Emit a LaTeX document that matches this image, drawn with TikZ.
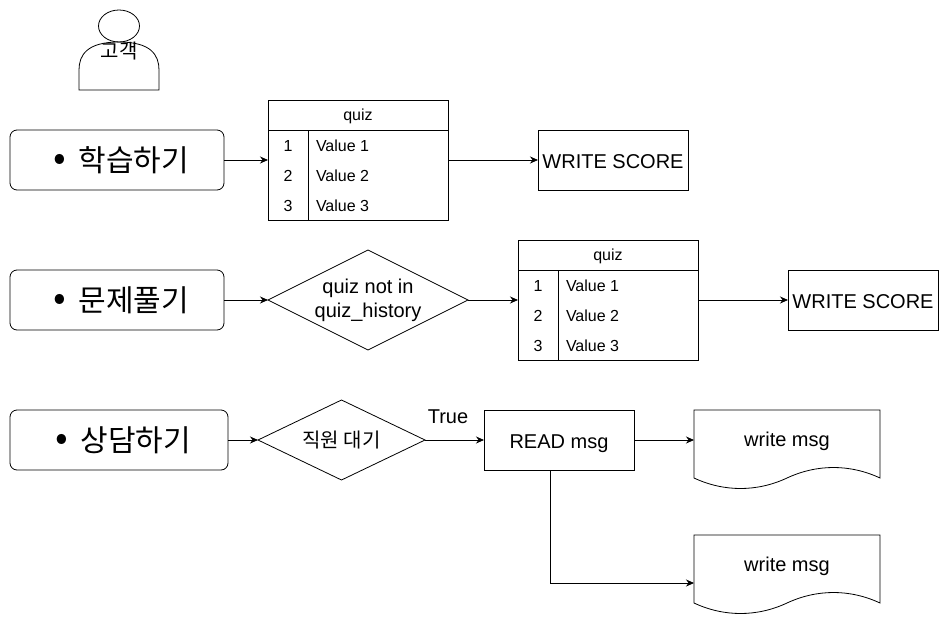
\documentclass[tikz,border=0pt]{standalone}
\usepackage{fontspec}
\setmainfont{Liberation Sans}
\newfontfamily\krfont{Noto Sans CJK KR}
\usetikzlibrary{arrows.meta,shapes.geometric}
\tikzset{
    x={1pt},
    y={-1pt},
    flow/.style={
        draw=black,
        line width={0.8pt},
        -{Stealth[length=8pt,width=7pt]},
    },
    shape line/.style={
        draw=black,
        line width={0.8pt},
    },
    task box/.style={
        shape line, rectangle, rounded corners={7pt},
        minimum width={#1},
        minimum height={60},
        outer sep=0pt,
        font={\fontsize{30}{34}\selectfont\krfont},
    },
    step box/.style={
        shape line, rectangle,
        minimum width={150},
        minimum height={60},
        inner sep=0pt, outer sep=0pt,
        text height=16pt, text depth=0pt,
        font={\fontsize{20}{24}\selectfont},
    },
    check/.style 2 args={
        shape line, diamond,
        minimum width={#1},
        minimum height={#2},
        aspect=2,
        inner sep=-2pt, outer sep=0pt,
        align=center,
        font={\fontsize{20}{24}\selectfont},
    },
    table frame/.style={
        shape line, rectangle,
        minimum width={180},
        minimum height={120},
        outer sep=0pt,
    },
    table text/.style={
        inner sep=0pt, outer sep=0pt,
        text height=11.5pt, text depth=0pt,
        font={\fontsize{16}{19}\selectfont},
    },
    doc text/.style={
        rectangle,
        minimum width={186},
        minimum height={58},
        inner sep=0pt, outer sep=0pt,
        text height=14pt, text depth=0pt,
        font={\fontsize{20}{24}\selectfont},
    },
}
\newcommand{\bigdot}{\raisebox{0.5pt}{\scalebox{1.25}{\textbullet}}}

\begin{document}
\begin{tikzpicture}
\useasboundingbox (0,0) rectangle (949,626);
% customer
\node[shape line, ellipse, minimum width={41}, minimum height={32}, inner sep=0pt] (head) at (119,26) {};
\draw[shape line] (79,90) -- (79,70) .. controls (79,55) and (87,42) .. (119,42) .. controls (151,42) and (159,55) .. (159,70) -- (159,90) -- cycle;
\node[font={\fontsize{20}{24}\selectfont\krfont}] (customer) at (119,51) {고객};
% tasks
\node[task box={214}] (learn) at (117,160) {\hspace{9pt}\bigdot\hspace{12pt}학습하기};
\node[task box={214}] (solve) at (117,300) {\hspace{9pt}\bigdot\hspace{12pt}문제풀기};
\node[task box={218}] (consult) at (119,440) {\hspace{9pt}\bigdot\hspace{12pt}상담하기};
% tables
\foreach \tbl/\tx/\ty in {quiz a/358/160, quiz b/608/300} {
    \node[table frame] (\tbl) at (\tx,\ty) {};
    \draw[shape line] ([yshift=-30pt]\tbl.north west) -- ([yshift=-30pt]\tbl.north east);
    \draw[shape line] ([xshift=40pt,yshift=-30pt]\tbl.north west) -- ([xshift=40pt]\tbl.south west);
    \node[table text] (\tbl title) at ([yshift=-15pt]\tbl.north) {quiz};
    \foreach \row in {1,2,3} {
        \node[table text] (\tbl num \row) at ([xshift=20pt,yshift={-16pt-30pt*\row}]\tbl.north west) {\row};
        \node[table text, anchor=west] (\tbl val \row) at ([xshift=48pt,yshift={-16pt-30pt*\row}]\tbl.north west) {Value \row};
    }
}
% steps
\node[step box] (score a) at (613,160) {WRITE SCORE};
\node[step box] (score b) at (863,300) {WRITE SCORE};
\node[check={200}{100}] (not seen) at (368,300) {quiz not in\\quiz\_history};
\node[check={167}{80}, font={\fontsize{20}{24}\selectfont\krfont}] (wait) at (341.5,440) {직원 대기};
\node[step box] (read) at (559,440) {READ msg};
\node[font={\fontsize{20}{24}\selectfont}] (true label) at (448,417) {True};
% documents
\foreach \doc/\dy in {doc a/439, doc b/564} {
    \node[doc text] (\doc) at (787,\dy) {write msg};
    \draw[shape line] (\doc.north west) -- (\doc.north east) -- ++(0,68)
        .. controls +(-30,-14) and +(30,-14) .. ++(-93,0)
        .. controls +(-30,14) and +(30,14) .. ++(-93,0) -- cycle;
}
\coordinate (read out) at (550,470);
\coordinate (doc b in) at (694,583);
% connectors
\draw[flow] (learn) -- (quiz a);
\draw[flow] (quiz a) -- (score a);
\draw[flow] (solve) -- (not seen);
\draw[flow] (not seen) -- (quiz b);
\draw[flow] (quiz b) -- (score b);
\draw[flow] (consult) -- (wait);
\draw[flow] (wait) -- (read);
\draw[flow] (read.east) -- (doc a.west |- read.east);
\draw[flow] (read out) |- (doc b in);
\end{tikzpicture}
\end{document}
